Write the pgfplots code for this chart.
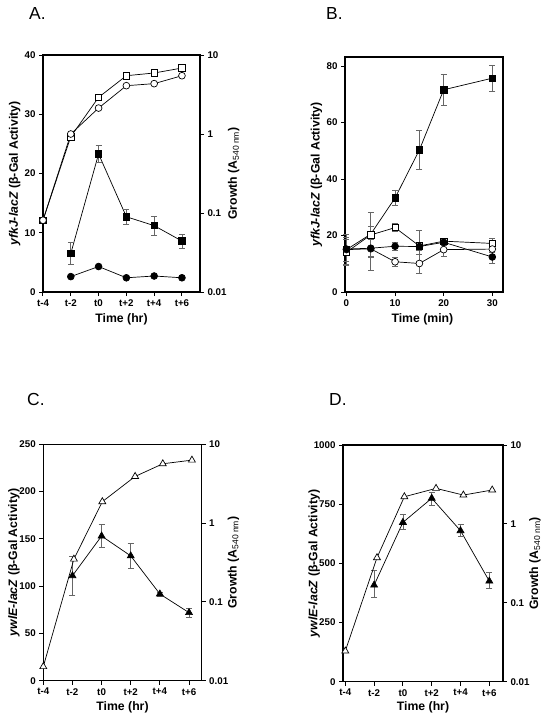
\documentclass[border=0pt]{standalone}
\usepackage{fontspec}
\setmainfont{Liberation Sans}
\usepackage{pgfplots}
\pgfplotsset{compat=1.18}

\pgfplotsset{
  base/.style={
    scale only axis, clip=false,
    axis line style={line width=1.1bp},
    tick style={line width=1bp, black},
    tick align=outside, major tick length=4bp,
    ticklabel style={font=\bfseries\fontsize{9.8}{10}\selectfont},
    /pgf/number format/assume math mode=true,
    /pgf/number format/1000 sep={},
    label style={font=\bfseries\fontsize{12.3}{13}\selectfont},
  },
  eb/.style={error bars/.cd, y dir=both, y explicit,
    error bar style={line width=0.7bp, black!60},
    error mark options={line width=0.7bp, black!60, mark size=3bp, rotate=90}},
  pl/.style={line width=0.7bp, draw=black},
  fsq/.style={pl, mark=square*, mark size=3.2bp, mark options={draw=black, fill=black, solid}},
  osq/.style={pl, mark=square*, mark size=3.2bp, mark options={draw=black, fill=white, solid}},
  fci/.style={pl, mark=*, mark size=3.4bp, mark options={draw=black, fill=black}},
  oci/.style={pl, mark=*, mark size=3.4bp, mark options={draw=black, fill=white}},
  ftr/.style={pl, mark=triangle*, mark size=4bp, mark options={draw=black, fill=black}},
  otr/.style={pl, mark=triangle*, mark size=4bp, mark options={draw=black, fill=white}},
}

\begin{document}
\begin{tikzpicture}
\path[use as bounding box] (0bp,0bp) rectangle (544bp,-720bp);

\node[anchor=base west, inner sep=0, font=\fontsize{17.5}{18}\selectfont] at (29bp,-19bp) {A.};
\node[anchor=base west, inner sep=0, font=\fontsize{17.5}{18}\selectfont] at (326bp,-19bp) {B.};
\node[anchor=base west, inner sep=0, font=\fontsize{17.5}{18}\selectfont] at (27bp,-405bp) {C.};
\node[anchor=base west, inner sep=0, font=\fontsize{17.5}{18}\selectfont] at (329bp,-405bp) {D.};

% ---------------- Panel A ----------------
\begin{axis}[base, at={(43bp,-55bp)}, anchor=north west, width=157bp, height=237bp,
  xmin=-4, xmax=7.3, ymin=0, ymax=40,
  xtick={-4,-2,0,2,4,6}, xticklabels={t-4,t-2,t0,t+2,t+4,t+6},
  ytick={0,10,20,30,40}, tick pos=left,
  xlabel={Time (hr)},
  xlabel style={at={(axis description cs:0.5,-0.114)}, anchor=center},
  ylabel={\textit{yfkJ-lacZ} (β-Gal Activity)},
  ylabel style={at={(axis description cs:-0.18,0.5)}, anchor=center}]
\addplot[fsq, eb] coordinates {
  (-2,6.5) +- (0,1.8) (0,23.3) +- (0,1.5) (2,12.7) +- (0,1.3) (4,11.2) +- (0,1.6) (6,8.6) +- (0,1.2)};
\addplot[fci] coordinates {(-2,2.6) (0,4.3) (2,2.4) (4,2.7) (6,2.4)};
\end{axis}
\begin{axis}[base, at={(43bp,-55bp)}, anchor=north west, width=157bp, height=237bp,
  xmin=-4, xmax=7.3, ymode=log, ymin=0.01, ymax=10,
  axis x line=none, axis y line*=right,
  ytick={0.01,0.1,1,10}, yticklabels={0.01,0.1,1,10}, yminorticks=false,
  ylabel={Growth (A\textsubscript{\mdseries 540 nm})},
  ylabel style={at={(axis description cs:1.215,0.5)}, anchor=center}]
\addplot[osq] coordinates {(-4,0.081) (-2,0.925) (0,2.91) (2,5.47) (4,5.92) (6,6.84)};
\addplot[oci] coordinates {(-4,0.081) (-2,1.0) (0,2.13) (2,4.09) (4,4.34) (6,5.47)};
\end{axis}

% ---------------- Panel B ----------------
\begin{axis}[base, at={(345bp,-57bp)}, anchor=north west, width=158bp, height=235bp,
  xmin=-0.3, xmax=32.2, ymin=0, ymax=83.2,
  xtick={0,10,20,30}, ytick={0,20,40,60,80}, tick pos=left,
  xlabel={Time (min)},
  xlabel style={at={(axis description cs:0.49,-0.116)}, anchor=center},
  ylabel={\textit{yfkJ-lacZ} (β-Gal Activity)},
  ylabel style={at={(axis description cs:-0.18,0.5)}, anchor=center}]
\addplot[fsq, eb] coordinates {
  (0,15) +- (0,0) (5,20.5) +- (0,0) (10,33.3) +- (0,2.6) (15,50.3) +- (0,6.8) (20,71.6) +- (0,5.5) (30,75.7) +- (0,4.6)};
\addplot[osq, eb] coordinates {
  (0,14.1) +- (0,4.7) (5,20.2) +- (0,8.1) (10,22.8) +- (0,1.5) (15,16.3) +- (0,5.5) (20,18) +- (0,1) (30,17.2) +- (0,1.8)};
\addplot[oci, eb] coordinates {
  (0,15) +- (0,5.3) (5,15.3) +- (0,7.8) (10,10.7) +- (0,1.6) (15,10.1) +- (0,3.4) (20,15) +- (0,2.4) (30,15.2) +- (0,1)};
\addplot[fci, eb] coordinates {
  (0,15.2) +- (0,4.2) (5,15.5) +- (0,3) (10,16.2) +- (0,1.5) (15,16.1) +- (0,1.5) (20,17.6) +- (0,1) (30,12.4) +- (0,2.3)};
\end{axis}

% ---------------- Panel C ----------------
\begin{axis}[base, at={(43.3bp,-444.3bp)}, anchor=north west, width=158.4bp, height=236.4bp,
  xmin=-4, xmax=6.87, ymin=0, ymax=250,
  xtick={-4,-2,0,2,4,6}, xticklabels={t-4,t-2,t0,t+2,t+4,t+6},
  ytick={0,50,100,150,200,250}, tick pos=left,
  xlabel={Time (hr)},
  xlabel style={at={(axis description cs:0.5,-0.113)}, anchor=center},
  ylabel={\textit{ywlE-lacZ} (β-Gal Activity)},
  ylabel style={at={(axis description cs:-0.185,0.5)}, anchor=center}]
\addplot[ftr, eb] coordinates {
  (-2,111) +- (0,20.5) (0,153) +- (0,12) (2,132) +- (0,13) (4,91.7) +- (0,2) (6,72) +- (0,4.5)};
\end{axis}
\begin{axis}[base, at={(43.3bp,-444.3bp)}, anchor=north west, width=158.4bp, height=236.4bp,
  xmin=-4, xmax=6.87, ymode=log, ymin=0.01, ymax=10,
  axis x line=none, axis y line*=right,
  ytick={0.01,0.1,1,10}, yticklabels={0.01,0.1,1,10}, yminorticks=false,
  ylabel={Growth (A\textsubscript{\mdseries 540 nm})},
  ylabel style={at={(axis description cs:1.2,0.5)}, anchor=center}]
\addplot[otr] coordinates {(-4,0.0151) (-1.9,0.349) (0.05,1.87) (2.3,3.91) (4.2,5.66) (6.2,6.3)};
\end{axis}

% ---------------- Panel D ----------------
\begin{axis}[base, at={(343bp,-445bp)}, anchor=north west, width=160bp, height=236.7bp,
  xmin=-4.16, xmax=6.95, ymin=0, ymax=1000,
  xtick={-4,-2,0,2,4,6}, xticklabels={t-4,t-2,t0,t+2,t+4,t+6},
  ytick={0,250,500,750,1000}, tick pos=left,
  xlabel={Time (hr)},
  xlabel style={at={(axis description cs:0.5,-0.11)}, anchor=center},
  ylabel={\textit{ywlE-lacZ} (β-Gal Activity)},
  ylabel style={at={(axis description cs:-0.18,0.5)}, anchor=center}]
\addplot[ftr, eb] coordinates {
  (-2,408) += (0,61) -= (0,52) (0,673) += (0,35) -= (0,28) (2,775) += (0,24) -= (0,29)
  (4,638) += (0,28) -= (0,23) (6,425) += (0,37) -= (0,31)};
\end{axis}
\begin{axis}[base, at={(343bp,-445bp)}, anchor=north west, width=160bp, height=236.7bp,
  xmin=-4.16, xmax=6.95, ymode=log, ymin=0.01, ymax=10,
  axis x line=none, axis y line*=right,
  ytick={0.01,0.1,1,10}, yticklabels={0.01,0.1,1,10}, yminorticks=false,
  ylabel={Growth (A\textsubscript{\mdseries 540 nm})},
  ylabel style={at={(axis description cs:1.2,0.5)}, anchor=center}]
\addplot[otr] coordinates {(-4,0.0245) (-1.8,0.373) (0.1,2.21) (2.3,2.82) (4.2,2.32) (6.2,2.69)};
\end{axis}
\end{tikzpicture}
\end{document}
